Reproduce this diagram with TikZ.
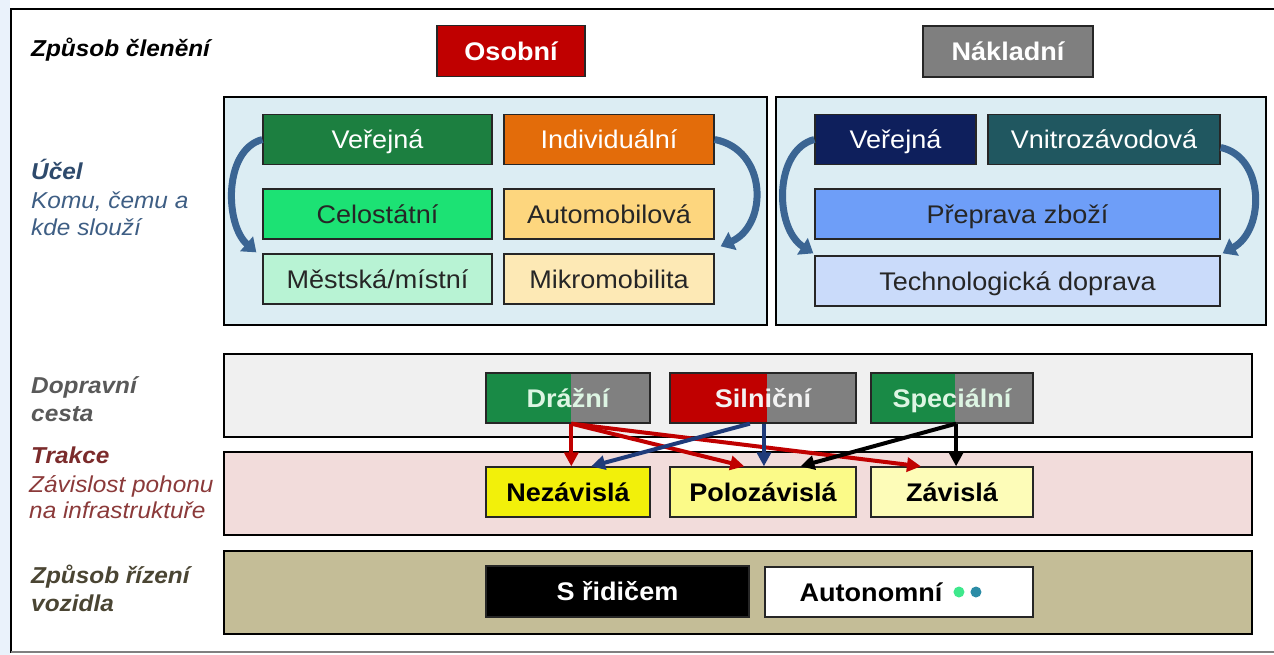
\documentclass[tikz,border=0pt]{standalone}
\usepackage{fontspec}
\setmainfont{Liberation Sans}[FakeStretch=1.06]
\usetikzlibrary{arrows.meta,calc}
\definecolor{leftbg}{HTML}{EAF2FB}
\definecolor{panelblue}{HTML}{DCEDF3}
\definecolor{osred}{HTML}{C00000}
\definecolor{nakgray}{HTML}{7F7F7F}
\definecolor{cverejna}{HTML}{1C7F40}
\definecolor{cindiv}{HTML}{E36C0A}
\definecolor{ccelost}{HTML}{1CE274}
\definecolor{cauto}{HTML}{FDD67E}
\definecolor{cmest}{HTML}{B8F3D4}
\definecolor{cmikro}{HTML}{FDE9B5}
\definecolor{cnver}{HTML}{0E1F5C}
\definecolor{cvnitro}{HTML}{205760}
\definecolor{cprep}{HTML}{6E9EF8}
\definecolor{ctech}{HTML}{CADBFA}
\definecolor{curvblue}{HTML}{3B6593}
\definecolor{cdop}{HTML}{F0F0F0}
\definecolor{ctrak}{HTML}{F2DCDB}
\definecolor{criz}{HTML}{C4BD97}
\definecolor{cgreen}{HTML}{198A46}
\definecolor{cgray}{HTML}{808080}
\definecolor{ctxtgreen}{HTML}{DDF5E3}
\definecolor{cnez}{HTML}{F2F00A}
\definecolor{cpolo}{HTML}{FBFA88}
\definecolor{czav}{HTML}{FDFCB8}
\definecolor{arrred}{HTML}{C00000}
\definecolor{arrblue}{HTML}{1F3B7A}
\definecolor{lucelc}{HTML}{2E4A6C}
\definecolor{lkomuc}{HTML}{3E5E84}
\definecolor{ldopc}{HTML}{595959}
\definecolor{ltrakc}{HTML}{7B2B2B}
\definecolor{lzavc}{HTML}{8B3A3A}
\definecolor{lrizc}{HTML}{4A4533}
\definecolor{dotgreen}{HTML}{3EE88C}
\definecolor{dotteal}{HTML}{2B8CA6}
\newcommand\bxfont{\fontsize{25.5}{29}\selectfont}
\newcommand\lbfont{\fontsize{23}{27}\selectfont}
\begin{document}
\begin{tikzpicture}[x=1pt,y=-1pt,
  panel/.style={draw=black, line width=2.5pt, inner sep=0pt},
  bx/.style={draw=black!85, line width=1.3pt, inner sep=0pt, minimum height=50pt,
    font=\bxfont, text height=18.2pt, text depth=0pt},
  bbx/.style={bx, font=\bxfont\bfseries},
  lbl/.style={anchor=base west, inner sep=0pt, font=\lbfont},
  lblb/.style={lbl, font=\lbfont\bfseries\itshape},
  lbli/.style={lbl, font=\lbfont\itshape},
  conn/.style={line width=4pt, -{Triangle[length=14pt,width=14pt]}},
  curv/.style={draw=curvblue, line width=7pt, -{Triangle[length=13pt,width=19pt]}, color=curvblue},
  split/.style={path picture={\fill[#1] (path picture bounding box.north west) rectangle
     ($(path picture bounding box.south west)!0.52!(path picture bounding box.south east)$);}}
]
\useasboundingbox (0,0) rectangle (1274,655);
% outer frame
\fill[leftbg] (0,0) rectangle (10,655);
\draw[line width=1.5pt] (11,653) -- (11,9) -- (1276,9);
\draw[line width=1.5pt, gray] (11,652) -- (1276,652);

% left labels
\node[lblb] (lzc) at (31,57) {Způsob členění};
\node[lblb, text=lucelc] (lucel) at (31,180) {Účel};
\node[lbli, text=lkomuc] (lkomu) at (31,208) {Komu, čemu a};
\node[lbli, text=lkomuc] (lkde) at (31,235) {kde slouží};
\node[lblb, text=ldopc] (ldop) at (31,393) {Dopravní};
\node[lblb, text=ldopc] (lces) at (31,421) {cesta};
\node[lblb, text=ltrakc] (ltrak) at (31,463) {Trakce};
\node[lbli, text=lzavc] (lzav) at (29,492) {Závislost pohonu};
\node[lbli, text=lzavc] (linf) at (29,518) {na infrastruktuře};
\node[lblb, text=lrizc] (lriz) at (31,583) {Způsob řízení};
\node[lblb, text=lrizc] (lvoz) at (31,611) {vozidla};

% header boxes
\node[bbx, fill=osred, text=white, minimum width=148pt, minimum height=51pt] (osobni) at (511,51) {Osobní};
\node[bbx, fill=nakgray, text=white, minimum width=170pt, minimum height=51pt] (nakladni) at (1008,51.5) {Nákladní};

% panels
\node[panel, fill=panelblue, minimum width=543pt, minimum height=228pt] (posob) at (495.5,211) {};
\node[panel, fill=panelblue, minimum width=490pt, minimum height=228pt] (pnak) at (1021,211) {};
\node[panel, fill=cdop, minimum width=1028pt, minimum height=83pt] (pdop) at (738,395.5) {};
\node[panel, fill=ctrak, minimum width=1028pt, minimum height=83pt] (ptrak) at (738,493.5) {};
\node[panel, fill=criz, minimum width=1028pt, minimum height=83pt] (priz) at (738,592.5) {};

% osobni boxes
\node[bx, fill=cverejna, text=white, minimum width=229pt] (verejna) at (377.5,139.5) {Veřejná};
\node[bx, fill=cindiv, text=white, minimum width=210pt] (indiv) at (609,139.5) {Individuální};
\node[bx, fill=ccelost, text=black!85, minimum width=229pt] (celost) at (377.5,214) {Celostátní};
\node[bx, fill=cauto, text=black!85, minimum width=210pt] (automob) at (609,214) {Automobilová};
\node[bx, fill=cmest, text=black!85, minimum width=229pt] (mestska) at (377.5,279) {Městská/místní};
\node[bx, fill=cmikro, text=black!85, minimum width=210pt] (mikro) at (609,279) {Mikromobilita};

% nakladni boxes
\node[bx, fill=cnver, text=white, minimum width=161pt] (nver) at (895.5,139.5) {Veřejná};
\node[bx, fill=cvnitro, text=white, minimum width=232pt] (vnitro) at (1104,139.5) {Vnitrozávodová};
\node[bx, fill=cprep, text=black!85, minimum width=405pt] (prep) at (1017.5,214) {Přeprava zboží};
\node[bx, fill=ctech, text=black!85, minimum width=405pt] (techno) at (1017.5,281) {Technologická doprava};

% curved arrows
\draw[curv] (verejna.west) .. controls (223,150) and (225,225) .. ($(mestska.north west)+(-6,-1)$);
\draw[curv] (indiv.east) .. controls (768,150) and (768,225) .. ($(mikro.north east)+(6,-7)$);
\draw[curv] (nver.west) .. controls (774,150) and (774,228) .. ($(techno.north west)+(-1,-2)$);
\draw[curv] ($(vnitro.east)+(0,8)$) .. controls (1265,157) and (1265,230) .. ($(techno.north east)+(2,-2)$);

% dopravni cesta
\node[bbx, fill=cgray, split=cgreen, text=ctxtgreen, minimum width=164pt] (drazni) at (568,398) {Drážní};
\node[bbx, fill=cgray, split=osred, text=white!95!black, minimum width=186pt] (siln) at (763,398) {Silniční};
\node[bbx, fill=cgray, split=cgreen, text=ctxtgreen, minimum width=162pt] (spec) at (952,398) {Speciální};

% trakce
\node[bbx, fill=cnez, text=black, minimum width=164pt] (nez) at (568,492) {Nezávislá};
\node[bbx, fill=cpolo, text=black, minimum width=186pt] (polo) at (763,492) {Polozávislá};
\node[bbx, fill=czav, text=black, minimum width=162pt] (zav) at (952,492) {Závislá};

% rizeni
\node[bbx, fill=black, text=white, minimum width=263pt, minimum height=51pt] (ridic) at (617.5,591.5) {S řidičem};
\node[bbx, fill=white, minimum width=268pt] (auton) at (899,592) {};
\node[bbx, draw=none, text=black] (autot) at (871,592) {Autonomní};
\fill[dotgreen] ($(autot.east)+(16,0)$) circle (5.5);
\fill[dotteal] ($(autot.east)+(33,0)$) circle (5.5);

% connectors
\coordinate (dsp) at ($(drazni.south west)!0.52!(drazni.south east)$);
\coordinate (ssp) at ($(spec.south west)!0.525!(spec.south east)$);
\draw[conn, arrred] (dsp) -- ($(nez.north west)!0.52!(nez.north east)$);
\draw[conn, arrred] (dsp) -- ($(polo.north west)!0.40!(polo.north east)$);
\draw[conn, arrred] (dsp) -- ($(zav.north west)!0.31!(zav.north east)$);
\draw[conn, arrblue] ($(siln.south west)!0.43!(siln.south east)$) -- ($(nez.north west)!0.64!(nez.north east)$);
\draw[conn, arrblue] ($(siln.south west)!0.505!(siln.south east)$) -- ($(polo.north west)!0.505!(polo.north east)$);
\draw[conn, black] (ssp) -- ($(polo.north west)!0.70!(polo.north east)$);
\draw[conn, black] (ssp) -- ($(zav.north west)!0.525!(zav.north east)$);
\end{tikzpicture}
\end{document}
